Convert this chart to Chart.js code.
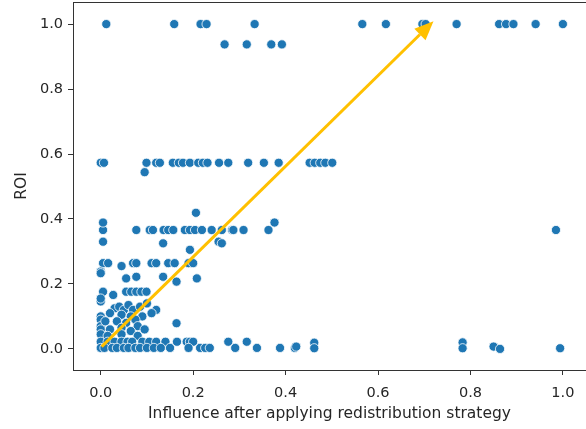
<!DOCTYPE html>
<html>
<head>
<meta charset="utf-8">
<script src="https://cdn.jsdelivr.net/npm/chart.js@4/dist/chart.umd.min.js"></script>
<style>
  html, body { margin: 0; padding: 0; background: #fff; }
  #wrap { width: 586px; height: 429px; }
</style>
</head>
<body>
<div id="wrap"><canvas id="grafico"></canvas></div>
<script>
// Influence (x) / ROI (y), grouped by rows
const influence = [
  // ROI 1.0
  0.012, 0.159, 0.216, 0.229, 0.333, 0.566, 0.617, 0.696, 0.703, 0.770, 0.862, 0.877, 0.893, 0.941, 1.000,
  // ROI ~0.94
  0.268, 0.316, 0.369, 0.392,
  // ROI ~0.57
  0.000, 0.007, 0.095, 0.099, 0.120, 0.128, 0.156, 0.169, 0.178, 0.193, 0.211, 0.221, 0.231, 0.256, 0.276, 0.319, 0.353, 0.385, 0.452, 0.463, 0.475, 0.486, 0.501,
  // ROI ~0.37
  0.005, 0.077, 0.106, 0.113, 0.136, 0.146, 0.157, 0.182, 0.193, 0.204, 0.219, 0.240, 0.262, 0.284, 0.287, 0.309, 0.363, 0.985,
  0.005, 0.005, 0.206, 0.376, 0.255, 0.262, 0.135, 0.193,
  // ROI ~0.26
  0.005, 0.016, 0.070, 0.077, 0.110, 0.120, 0.146, 0.160, 0.190, 0.200,
  0.045, 0.000, 0.000, 0.055, 0.077, 0.135, 0.208, 0.164,
  // ROI ~0.18
  0.005, 0.055, 0.066, 0.077, 0.088, 0.099, 0.000, 0.027, 0.000,
  // cluster 0.1 - 0.14
  0.030, 0.040, 0.050, 0.060, 0.070, 0.085, 0.100, 0.120, 0.020, 0.045, 0.065, 0.090, 0.000, 0.110,
  // cluster 0.05 - 0.09
  0.000, 0.000, 0.010, 0.035, 0.055, 0.075, 0.080, 0.164, 0.000, 0.020, 0.045, 0.065, 0.095,
  0.000, 0.015, 0.045, 0.080,
  // ROI ~0.02
  0.000, 0.015, 0.030, 0.045, 0.058, 0.068, 0.090, 0.105, 0.120, 0.140, 0.165, 0.186, 0.193, 0.200, 0.276, 0.316, 0.462, 0.783,
  // ROI ~0.0
  0.000, 0.008, 0.025, 0.035, 0.050, 0.060, 0.075, 0.085, 0.100, 0.115, 0.130, 0.150, 0.190, 0.215, 0.226, 0.236, 0.291, 0.338, 0.388, 0.420, 0.423, 0.462, 0.783, 0.850, 0.864, 0.994
];
const roi = [
  1, 1, 1, 1, 1, 1, 1, 1, 1, 1, 1, 1, 1, 1, 1,
  0.9375, 0.9375, 0.9375, 0.9375,
  0.573, 0.573, 0.544, 0.573, 0.573, 0.573, 0.573, 0.573, 0.573, 0.573, 0.573, 0.573, 0.573, 0.573, 0.573, 0.573, 0.573, 0.573, 0.573, 0.573, 0.573, 0.573, 0.573,
  0.366, 0.366, 0.366, 0.366, 0.366, 0.366, 0.366, 0.366, 0.366, 0.366, 0.366, 0.366, 0.366, 0.366, 0.366, 0.366, 0.366, 0.366,
  0.389, 0.330, 0.419, 0.389, 0.330, 0.325, 0.325, 0.305,
  0.264, 0.264, 0.264, 0.264, 0.264, 0.264, 0.264, 0.264, 0.264, 0.264,
  0.255, 0.238, 0.233, 0.217, 0.222, 0.222, 0.217, 0.207,
  0.176, 0.176, 0.176, 0.176, 0.176, 0.176, 0.146, 0.166, 0.155,
  0.125, 0.130, 0.120, 0.135, 0.120, 0.130, 0.140, 0.120, 0.110, 0.105, 0.100, 0.100, 0.100, 0.110,
  0.090, 0.070, 0.085, 0.085, 0.080, 0.090, 0.070, 0.079, 0.060, 0.060, 0.065, 0.055, 0.060,
  0.045, 0.040, 0.045, 0.040,
  0.022, 0.022, 0.022, 0.022, 0.022, 0.022, 0.022, 0.022, 0.022, 0.022, 0.022, 0.022, 0.022, 0.022, 0.022, 0.022, 0.019, 0.020,
  0.003, 0.003, 0.003, 0.003, 0.003, 0.003, 0.003, 0.003, 0.003, 0.003, 0.003, 0.003, 0.003, 0.003, 0.003, 0.003, 0.003, 0.003, 0.003, 0.003, 0.007, 0.002, 0.002, 0.007, 0.000, 0.002
];

const xTicks = [0, 0.2, 0.4, 0.6, 0.8, 1.0];
const yTicks = [0, 0.2, 0.4, 0.6, 0.8, 1.0];

// arrow, in data units
const arrowFrom = [0.002, 0.007];
const arrowTo = [0.72, 1.009];

const puntos = influence.map((x, i) => ({ x, y: roi[i] }));

const marco = {
  id: 'marco',
  afterDraw(chart) {
    const { ctx, chartArea: a } = chart;
    ctx.save();
    ctx.strokeStyle = '#333';
    ctx.lineWidth = 1;
    ctx.strokeRect(a.left + 0.5, a.top + 0.5, a.right - a.left, a.bottom - a.top);
    ctx.restore();
  }
};

const flecha = {
  id: 'flecha',
  afterDatasetsDraw(chart) {
    const { ctx, scales: { x, y } } = chart;
    const x0 = x.getPixelForValue(arrowFrom[0]), y0 = y.getPixelForValue(arrowFrom[1]);
    const x1 = x.getPixelForValue(arrowTo[0]), y1 = y.getPixelForValue(arrowTo[1]);
    const ang = Math.atan2(y1 - y0, x1 - x0);
    const largo = 19, ancho = 8;
    const bx = x1 - largo * Math.cos(ang), by = y1 - largo * Math.sin(ang);
    ctx.save();
    ctx.strokeStyle = '#FFC000';
    ctx.fillStyle = '#FFC000';
    ctx.lineWidth = 3;
    ctx.beginPath();
    ctx.moveTo(x0, y0);
    ctx.lineTo(bx, by);
    ctx.stroke();
    ctx.beginPath();
    ctx.moveTo(x1, y1);
    ctx.lineTo(bx + ancho * Math.sin(ang), by - ancho * Math.cos(ang));
    ctx.lineTo(bx - ancho * Math.sin(ang), by + ancho * Math.cos(ang));
    ctx.closePath();
    ctx.fill();
    ctx.restore();
  }
};

const fuenteTicks = { family: 'DejaVu Sans', size: 14.5 };
const fuenteTitulo = { family: 'DejaVu Sans', size: 15.5 };

// no extra padding from tick labels, the plot box is fixed
function sinRelleno(s) {
  s.paddingTop = 0;
  s.paddingBottom = 0;
  s.paddingLeft = 0;
  s.paddingRight = 0;
}

new Chart(document.getElementById('grafico'), {
  type: 'scatter',
  data: {
    datasets: [{
      data: puntos,
      backgroundColor: '#1f77b4',
      borderColor: '#ffffff',
      borderWidth: 0.8,
      pointRadius: 4.6
    }]
  },
  options: {
    responsive: true,
    maintainAspectRatio: false,
    animation: false,
    layout: { autoPadding: false, padding: { top: 2, right: 0, bottom: 0, left: 0 } },
    plugins: {
      legend: { display: false },
      tooltip: { enabled: false }
    },
    scales: {
      x: {
        min: -0.06,
        max: 1.05,
        afterBuildTicks: s => { s.ticks = xTicks.map(v => ({ value: v })); },
        afterFit: s => { s.height = 59; sinRelleno(s); },
        grid: { drawOnChartArea: false, tickLength: 5, color: '#333' },
        border: { display: false },
        ticks: { font: fuenteTicks, color: '#262626', padding: 10, maxRotation: 0, callback: v => v.toFixed(1) },
        title: { display: true, text: 'Influence after applying redistribution strategy', font: fuenteTitulo, color: '#262626', padding: { top: 4, bottom: 6 } }
      },
      y: {
        min: -0.065,
        max: 1.068,
        afterBuildTicks: s => { s.ticks = yTicks.map(v => ({ value: v })); },
        afterFit: s => { s.width = 73; sinRelleno(s); },
        grid: { drawOnChartArea: false, tickLength: 5, color: '#333' },
        border: { display: false },
        ticks: { font: fuenteTicks, color: '#262626', padding: 5, callback: v => v.toFixed(1) },
        title: { display: true, text: 'ROI', font: fuenteTitulo, color: '#262626', padding: { top: 13, bottom: 4 } }
      }
    }
  },
  plugins: [marco, flecha]
});
</script>
</body>
</html>
